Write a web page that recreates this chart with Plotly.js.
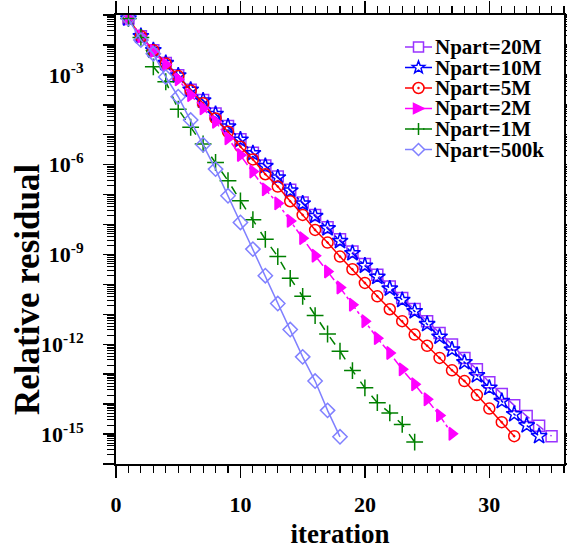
<!DOCTYPE html>
<html><head><meta charset="utf-8">
<script src="https://cdn.plot.ly/plotly-3.0.1.min.js"></script>
<style>html,body{margin:0;padding:0;background:#fff}#chart{width:567px;height:549px}</style>
</head><body><div id="chart"></div>
<script>
const iteration = [1,2,3,4,5,6,7,8,9,10,11,12,13,14,15,16,17,18,19,20,21,22,23,24,25,26,27,28,29,30,31,32,33,34,35];

const seriesNames = ['Npart=20M','Npart=10M','Npart=5M','Npart=2M','Npart=1M','Npart=500k'];

const npart20M = [7.6e-2,1.95e-2,6.6e-3,2.5e-3,9.8e-4,3.2e-4,1.45e-4,5.1e-5,1.95e-5,7.1e-6,
  2.5e-6,9.3e-7,4.0e-7,1.45e-7,5.4e-8,2.1e-8,8.1e-9,3.2e-9,1.26e-9,4.8e-10,
  2.1e-10,8.5e-11,3.5e-11,1.5e-11,5.9e-12,2.4e-12,9.8e-13,3.5e-13,1.45e-13,5.4e-14,
  2.2e-14,9.1e-15,4.0e-15,1.9e-15,8.5e-16];

const npart10M = [7.6e-2,1.95e-2,6.6e-3,2.45e-3,9.5e-4,3.16e-4,1.38e-4,4.9e-5,1.86e-5,6.8e-6,
  2.4e-6,8.9e-7,3.7e-7,1.35e-7,5.0e-8,1.9e-8,7.4e-9,2.8e-9,1.1e-9,4.2e-10,
  1.78e-10,7.2e-11,3.0e-11,1.26e-11,4.7e-12,1.78e-12,6.6e-13,2.5e-13,9.1e-14,3.5e-14,
  1.26e-14,4.6e-15,1.95e-15,8.5e-16];

const npart5M = [7.6e-2,1.95e-2,6.6e-3,2.4e-3,9.1e-4,3.0e-4,1.12e-4,3.5e-5,1.26e-5,4.0e-6,
  1.5e-6,4.8e-7,1.86e-7,6.0e-8,2.1e-8,6.6e-9,2.5e-9,8.5e-10,3.2e-10,1.12e-10,
  4.0e-11,1.48e-11,5.9e-12,2.1e-12,8.9e-13,3.5e-13,1.35e-13,5.9e-14,2.0e-14,7.1e-15,
  2.5e-15,8.5e-16];

const npart2M = [7.6e-2,1.95e-2,6.3e-3,2.2e-3,7.1e-4,2.1e-4,7.6e-5,2.7e-5,7.6e-6,2.1e-6,
  5.9e-7,1.5e-7,5.1e-8,1.32e-8,3.5e-9,9.1e-10,2.7e-10,7.9e-11,2.1e-11,5.9e-12,
  1.6e-12,5.1e-13,1.45e-13,4.6e-14,1.45e-14,4.2e-15,1.02e-15];

const npart1M = [7.6e-2,1.78e-2,1.86e-3,5.9e-4,7.1e-5,1.78e-5,4.9e-6,1.18e-6,2.9e-7,6.2e-8,
  1.45e-8,3.2e-9,8.5e-10,1.6e-10,4.0e-11,9.1e-12,2.2e-12,5.9e-13,1.32e-13,3.5e-14,
  1.12e-14,5.1e-15,2.1e-15,5.4e-16];

const npart500k = [7.6e-2,1.45e-2,5.1e-3,8.5e-4,1.86e-4,3.1e-5,4.6e-6,7.1e-7,9.1e-8,1.17e-8,
  1.51e-9,1.95e-10,2.3e-11,3.1e-12,3.8e-13,5.9e-14,6.2e-15,8.1e-16];

const yTickExponents = [-16,-15,-14,-13,-12,-11,-10,-9,-8,-7,-6,-5,-4,-3,-2,-1];
const yLabelledExponents = [-3,-6,-9,-12,-15];

const styles = [
  {color:'#9933ff', symbol:'square-open', size:11, dash:'dash'},
  {color:'#0000ff', symbol:'star-open', size:12, dash:'dashdot'},
  {color:'#ff0000', symbol:'circle-open-dot', size:11, dash:'solid'},
  {color:'#ff00ff', symbol:'triangle-right', size:11, dash:'dashdot'},
  {color:'#008000', symbol:'cross-thin-open', size:12, dash:'dash'},
  {color:'#8080ff', symbol:'diamond-open', size:11, dash:'solid'}
];
const allSeries = [npart20M,npart10M,npart5M,npart2M,npart1M,npart500k];

const traces = allSeries.map((vals,i)=>({
  x: iteration.slice(0, vals.length),
  y: vals,
  name: seriesNames[i],
  type: 'scatter',
  mode: 'lines+markers',
  showlegend: false,
  line: {color: styles[i].color, width: 1.5, dash: styles[i].dash},
  marker: {symbol: styles[i].symbol, size: styles[i].size, color: styles[i].color,
           line: {color: styles[i].color, width: 1.5}}
}));

const yTickVals = yTickExponents.map(e => Math.pow(10, e));
const yTickText = yTickExponents.map(e => yLabelledExponents.includes(e) ? '10<sup>' + e + '</sup>' : '');
const yMinorVals = [];
yTickExponents.slice(0, -1).forEach(e => { for (let m = 2; m <= 9; m++) yMinorVals.push(m * Math.pow(10, e)); });

const FONT = 'Liberation Serif, Times New Roman, serif';

// ---- hand-drawn legend (paper coordinates) ----
const M = {l: 116, r: 3, t: 15, b: 85};
const W = 567, H = 549;
const pw = W - M.l - M.r, ph = H - M.t - M.b;
const px2x = p => (p - M.l) / pw;
const py2y = p => (H - M.b - p) / ph;
const legendRowY = [47, 67.5, 88, 108.5, 129, 149.5];
const legLineX0 = 405, legLineX1 = 432, legMarkX = 418.5, legTextX = 433;

function starPath(ro, ri) {
  let d = '';
  for (let k = 0; k < 10; k++) {
    const a = (-90 + k * 36) * Math.PI / 180;
    const r = k % 2 === 0 ? ro : ri;
    d += (k === 0 ? 'M' : 'L') + (r * Math.cos(a)).toFixed(2) + ',' + (-r * Math.sin(a)).toFixed(2);
  }
  return d + 'Z';
}
const glyphPaths = [
  'M-5,-5L5,-5L5,5L-5,5Z',
  starPath(6.5, 2.7),
  null,
  'M-5,-5L5.5,0L-5,5Z',
  'M-6,0L6,0M0,-6L0,6',
  'M-6,0L0,6L6,0L0,-6Z'
];

const shapes = [];
const annotations = [];
seriesNames.forEach((nm, i) => {
  const yy = py2y(legendRowY[i]);
  const st = styles[i];
  const anchor = {xref: 'paper', yref: 'paper', xsizemode: 'pixel', ysizemode: 'pixel', xanchor: px2x(legMarkX), yanchor: yy};
  shapes.push({type: 'line', xref: 'paper', yref: 'paper', x0: px2x(legLineX0), x1: px2x(legLineX1), y0: yy, y1: yy,
               line: {color: st.color, width: 1.5, dash: st.dash}});
  if (glyphPaths[i]) {
    const filled = st.symbol === 'triangle-right';
    shapes.push(Object.assign({type: 'path', path: glyphPaths[i],
                 fillcolor: filled ? st.color : '#ffffff', line: {color: st.color, width: 1.5}}, anchor));
  } else {
    shapes.push(Object.assign({type: 'circle', x0: -5.5, x1: 5.5, y0: -5.5, y1: 5.5,
                 fillcolor: '#ffffff', line: {color: st.color, width: 1.5}}, anchor));
    shapes.push(Object.assign({type: 'circle', x0: -1, x1: 1, y0: -1, y1: 1,
                 fillcolor: st.color, line: {color: st.color, width: 0.5}}, anchor));
  }
  annotations.push({xref: 'paper', yref: 'paper', x: px2x(legTextX), y: yy, xanchor: 'left', yanchor: 'middle',
                    showarrow: false, text: nm, font: {family: FONT, size: 21, weight: 'bold', color: '#000'}});
});

// y-axis title placed as a rotated annotation (centre of the text in pixels)
annotations.push({xref: 'paper', yref: 'paper', x: px2x(27), y: py2y(290), xanchor: 'center', yanchor: 'middle',
                  textangle: -90, showarrow: false, text: 'Relative residual',
                  font: {family: FONT, size: 35, weight: 'bold', color: '#000'}});

const layout = {
  width: W, height: H,
  margin: M,
  paper_bgcolor: '#fff', plot_bgcolor: '#fff',
  font: {family: FONT, color: '#000', weight: 'bold'},
  showlegend: false,
  shapes: shapes,
  annotations: annotations,
  xaxis: {
    range: [0, 36], dtick: 10, tick0: 0,
    showgrid: false, zeroline: false,
    showline: true, linecolor: '#000', linewidth: 2, mirror: 'ticks',
    ticks: 'outside', ticklen: 12, tickwidth: 1.5, tickcolor: '#000',
    minor: {dtick: 1, ticklen: 7, tickwidth: 1.2, tickcolor: '#000', ticks: 'outside', showgrid: false},
    tickfont: {family: FONT, size: 22, weight: 'bold'},
    ticklabelstandoff: 8,
    title: {text: 'iteration', font: {family: FONT, size: 27, weight: 'bold'}, standoff: 12}
  },
  yaxis: {
    type: 'log', range: [-16, -1],
    tickmode: 'array', tickvals: yTickVals, ticktext: yTickText,
    showgrid: false, zeroline: false,
    showline: true, linecolor: '#000', linewidth: 2, mirror: 'ticks',
    ticks: 'outside', ticklen: 11, tickwidth: 1.5, tickcolor: '#000',
    minor: {tickmode: 'array', tickvals: yMinorVals, ticklen: 7, tickwidth: 1, tickcolor: '#000', ticks: 'outside', showgrid: false},
    tickfont: {family: FONT, size: 22, weight: 'bold'},
    ticklabelstandoff: 15
  }
};

Plotly.newPlot('chart', traces, layout, {displayModeBar: false, staticPlot: true});
</script>
</body></html>
